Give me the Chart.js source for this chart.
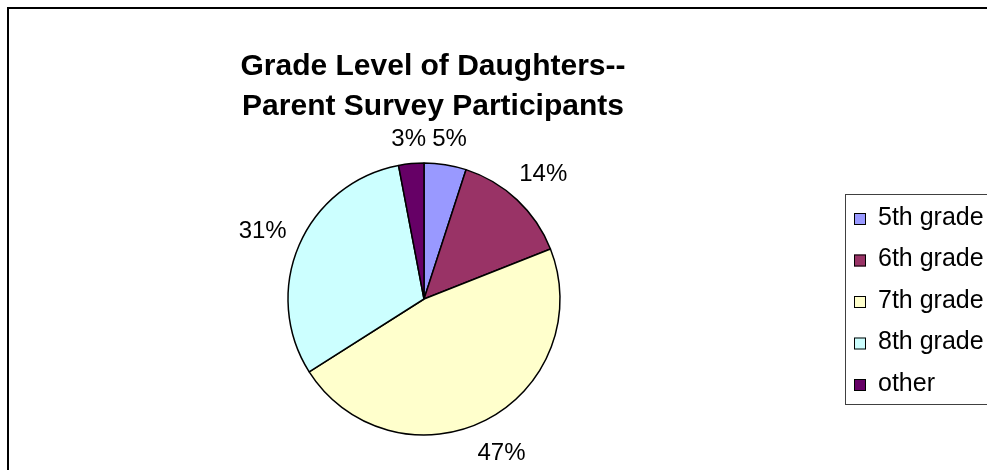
<!DOCTYPE html>
<html>
<head>
<meta charset="utf-8">
<script src="https://cdn.jsdelivr.net/npm/chart.js@4.4.0/dist/chart.umd.min.js"></script>
<style>
  html, body { margin: 0; padding: 0; background: #fff; overflow: hidden; }
  #wrap { width: 987px; height: 470px; position: relative; }
</style>
</head>
<body>
<div id="wrap"><canvas id="myChart1" width="987" height="470"></canvas></div>
<script>
/* Grade level pie */
const titleLines = ['Grade Level of Daughters--', 'Parent Survey Participants'];
const labels = ['5th grade', '6th grade', '7th grade', '8th grade', 'other'];
const percents = [5, 14, 47, 31, 3];
const colors = ['#9999FF', '#993366', '#FFFFCC', '#CCFFFF', '#660066'];

const FONT = '"Liberation Sans", Arial, sans-serif';

// frame, title, legend box and the % labels
const extras = {
  id: 'extras',
  beforeDraw(chart) {
    const ctx = chart.ctx;
    ctx.save();
    ctx.fillStyle = '#fff';
    ctx.fillRect(0, 0, chart.width, chart.height);
    ctx.strokeStyle = '#000';
    ctx.lineWidth = 2;
    ctx.strokeRect(8, 8, 2000, 2000);
    ctx.restore();
  },
  afterDraw(chart) {
    const ctx = chart.ctx;
    ctx.save();

    // title
    ctx.fillStyle = '#000';
    ctx.font = 'bold 30px ' + FONT;
    ctx.textAlign = 'center';
    ctx.textBaseline = 'alphabetic';
    titleLines.forEach((t, i) => ctx.fillText(t, 433, 75 + i * 40));

    // percent labels outside each slice
    const meta = chart.getDatasetMeta(0);
    ctx.font = '24px ' + FONT;
    ctx.textBaseline = 'middle';
    meta.data.forEach((arc, i) => {
      const p = arc.getProps(['x', 'y', 'startAngle', 'endAngle', 'outerRadius'], true);
      const mid = (p.startAngle + p.endAngle) / 2;
      const dx = Math.cos(mid), dy = Math.sin(mid);
      const txt = percents[i] + '%';
      const w = ctx.measureText(txt).width, h = 24;
      const d = p.outerRadius + 13 + Math.abs(dx) * w / 2 + Math.abs(dy) * h / 2;
      ctx.fillText(txt, p.x + dx * d, p.y + dy * d + 2);
    });

    // legend
    ctx.strokeStyle = '#404040';
    ctx.lineWidth = 1;
    ctx.strokeRect(845.5, 194.5, 400, 210);
    ctx.font = '25px ' + FONT;
    ctx.textAlign = 'left';
    labels.forEach((lab, i) => {
      const y = 217 + i * 41.5;
      ctx.fillStyle = colors[i];
      ctx.fillRect(854, y - 4, 12, 12);
      ctx.strokeStyle = '#000';
      ctx.strokeRect(854.5, y - 3.5, 11, 11);
      ctx.fillStyle = '#000';
      ctx.fillText(lab, 878, y + 1);
    });
    ctx.restore();
  }
};

const data1 = {
  labels: labels,
  datasets: [{
    data: percents,
    backgroundColor: colors,
    borderColor: '#000',
    borderWidth: 1.5
  }]
};

const config1 = {
  type: 'pie',
  data: data1,
  options: {
    responsive: false,
    animation: false,
    radius: 136,
    layout: {
      padding: { left: 280, right: 419, top: 160, bottom: 32 }
    },
    plugins: {
      legend: { display: false },
      title: { display: false },
      tooltip: { enabled: false }
    }
  },
  plugins: [extras]
};

const myChart1 = new Chart(document.getElementById('myChart1'), config1);
</script>
</body>
</html>
